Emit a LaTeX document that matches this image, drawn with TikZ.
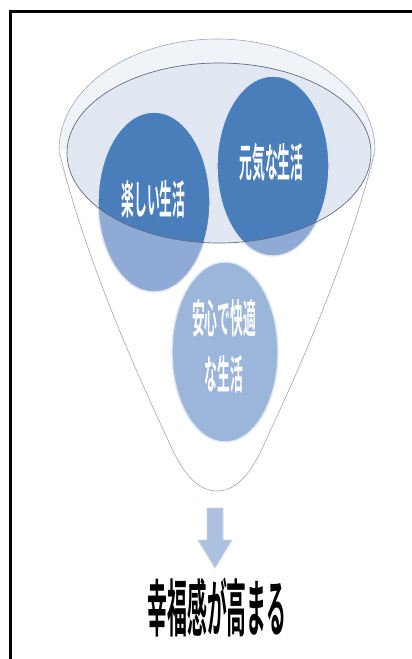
\documentclass[tikz,border=0pt]{standalone}
\usepackage{fontspec}
\usetikzlibrary{calc,positioning}
\newfontfamily\jpcircle[FakeStretch=0.32]{Noto Sans CJK JP Bold}
\newfontfamily\jpresult[FakeStretch=0.32]{Noto Sans CJK JP Bold}
\definecolor{darkcircle}{RGB}{74,126,187}
\definecolor{lightcircle}{RGB}{143,171,213}
\definecolor{palecircle}{RGB}{156,182,219}
\definecolor{funnelband}{RGB}{240,243,248}
\definecolor{funneltop}{RGB}{226,232,242}
\definecolor{funnelline}{RGB}{160,168,184}
\definecolor{ellipseline}{RGB}{95,110,135}
\definecolor{arrowfill}{RGB}{172,192,224}

\begin{document}
\begin{tikzpicture}[x=1pt,y=-1pt]

\tikzset{circletext/.style={font=\jpcircle\fontsize{40}{56}\selectfont,text=white,align=center,inner sep=0pt},
circleline/.style={draw={rgb,255:red,222;green,230;blue,242},line width=1.4pt},
funnelside/.style={draw=funnelline,line width=0.6pt},
resulttext/.style={font=\jpresult\fontsize{62}{66}\selectfont,inner sep=0pt}}

\useasboundingbox (0,0) rectangle (412,659);

% Frame
\draw[line width=2.8pt] (10.5,659) -- (10.5,11.3) -- (412,11.3);

% Funnel
\fill[funnelband] (217,150) ellipse [x radius=158, y radius=111];
\fill[white] (59,150) .. controls (85,260) and (140,380) .. (168,440) .. controls (180,468) and (195,491) .. (217,491)
 .. controls (239,491) and (254,468) .. (266,440) .. controls (294,380) and (349,260) .. (375,150) -- cycle;
\draw[funnelside] (59,150) .. controls (85,260) and (140,380) .. (168,440) .. controls (180,468) and (195,491) .. (217,491)
 .. controls (239,491) and (254,468) .. (266,440) .. controls (294,380) and (349,260) .. (375,150)
 arc [start angle=0, end angle=-180, x radius=158, y radius=111];
\fill[funneltop] (219,153) ellipse [x radius=152, y radius=90];

% Circles in the top
\foreach \cx/\cy in {154/202, 273/166} \fill[lightcircle] (\cx,\cy) ellipse [x radius=56, y radius=90];
\begin{scope}
\clip (219,153) ellipse [x radius=152, y radius=90];
\foreach \cx/\cy in {154/202, 273/166} \fill[darkcircle] (\cx,\cy) ellipse [x radius=56, y radius=90];
\end{scope}
\foreach \cx/\cy in {154/202, 273/166} \draw[circleline] (\cx,\cy) ellipse [x radius=56, y radius=90];
\draw[draw=ellipseline,line width=0.7pt] (219,153) ellipse [x radius=152, y radius=90];

% Circle in the neck
\draw[circleline,fill=palecircle] (225,352) ellipse [x radius=53, y radius=90];

% Labels
\node[circletext] (tanoshii) at (153.5,199) {楽しい生活};
\node[circletext] (genki) at (271.5,163) {元気な生活};
\node[circletext] (anshin) at (224,346) {安心で快適\\な生活};

% Arrow and result
\draw[fill=arrowfill,draw={rgb,255:red,205;green,212;blue,225},line width=0.8pt]
 (207,508) -- (223,508) -- (223,540) -- (232,540) -- (215,568) -- (198,540) -- (207,540) -- cycle;
\node[resulttext] (result) at (217,607.5) {幸福感が高まる};

\end{tikzpicture}
\end{document}
